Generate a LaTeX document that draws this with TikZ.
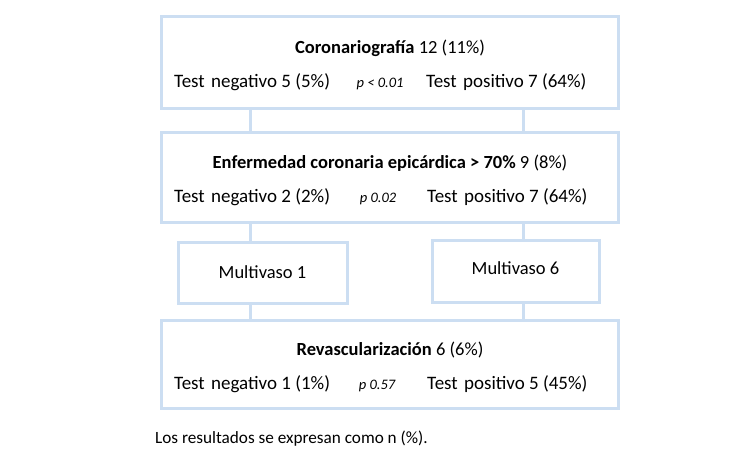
\documentclass[tikz,border=0pt]{standalone}
\usepackage{fontspec}
\setmainfont{Carlito}
\definecolor{boxblue}{RGB}{204,222,242}
\begin{document}
\begin{tikzpicture}[x=1pt,y=-1pt,
  box/.style={draw=boxblue,line width=3pt,inner sep=0pt,outer sep=0pt,fill=none},
  conn/.style={draw=boxblue,line width=3pt},
  txt/.style={font=\fontsize{19}{21}\selectfont,inner sep=0pt,anchor=base west},
  ttl/.style={font=\fontsize{18.5}{20}\selectfont,inner sep=0pt,anchor=base},
  pval/.style={font=\fontsize{14.5}{16}\selectfont\itshape,inner sep=0pt,anchor=base},
  note/.style={font=\fontsize{17.2}{19}\selectfont,inner sep=0pt,anchor=base west}]
\useasboundingbox (0,0) rectangle (750,469);
% boxes
\node[box,minimum width=457pt,minimum height=92pt] (b1) at (390,62) {};
\node[box,minimum width=457pt,minimum height=90pt] (b2) at (390,177) {};
\node[box,minimum width=169pt,minimum height=61pt] (m1) at (262.5,272.5) {};
\node[box,minimum width=167pt,minimum height=62pt] (m2) at (515.5,271) {};
\node[box,minimum width=457pt,minimum height=88pt] (b3) at (390,364) {};
% connector columns
\coordinate (cl) at (250,0);
\coordinate (cr) at (523,0);
\draw[conn] (b1.south -| cl) -- (b2.north -| cl);
\draw[conn] (b1.south -| cr) -- (b2.north -| cr);
\draw[conn] (b2.south -| cl) -- (m1.north -| cl);
\draw[conn] (b2.south -| cr) -- (m2.north -| cr);
\draw[conn] (m1.south -| cl) -- (b3.north -| cl);
\draw[conn] (m2.south -| cr) -- (b3.north -| cr);
% box 1 text
\node[ttl] (t1) at (390,53) {\textbf{Coronariografía} 12 (11\%)};
\node[txt] (n1) at (174,87) {Test\hspace{2pt} negativo 5 (5\%)};
\node[pval] (p1) at (380,87) {p < 0.01};
\node[txt] (q1) at (426,87) {Test\hspace{2pt} positivo 7 (64\%)};
% box 2 text
\node[ttl] (t2) at (390,168) {\textbf{Enfermedad coronaria epicárdica > 70\%} 9 (8\%)};
\node[txt] (n2) at (174,202) {Test\hspace{2pt} negativo 2 (2\%)};
\node[pval] (p2) at (378,202) {p 0.02};
\node[txt] (q2) at (427,202) {Test\hspace{2pt} positivo 7 (64\%)};
% multivaso
\node[ttl] (mt1) at (262.5,278) {Multivaso 1};
\node[ttl] (mt2) at (515.5,274) {Multivaso 6};
% box 3 text
\node[ttl] (t3) at (390,355) {\textbf{Revascularización} 6 (6\%)};
\node[txt] (n3) at (174,389) {Test\hspace{2pt} negativo 1 (1\%)};
\node[pval] (p3) at (377,389) {p 0.57};
\node[txt] (q3) at (427,389) {Test\hspace{2pt} positivo 5 (45\%)};
% footnote
\node[note] (fn) at (155,443) {Los resultados se expresan como n (\%).};
\end{tikzpicture}
\end{document}
